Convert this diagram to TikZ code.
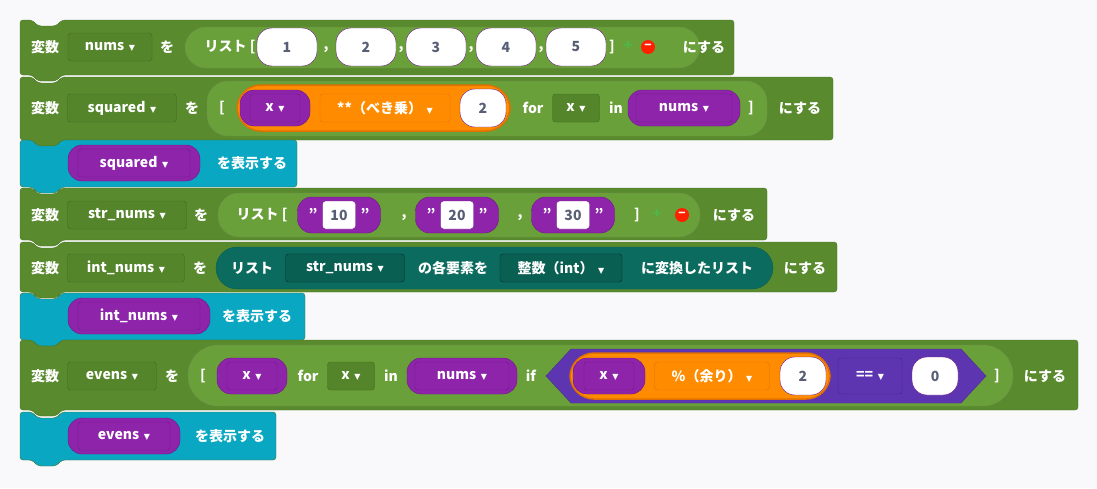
\documentclass[tikz,border=0pt]{standalone}
\usepackage{fontspec}
\setmainfont{Noto Sans CJK JP}
\newfontfamily\symb{DejaVu Sans}
\usetikzlibrary{shapes.geometric}
\definecolor{bg}{HTML}{F9F9FB}
\definecolor{blk}{HTML}{5A8A2E}
\definecolor{blkline}{HTML}{4A7624}
\definecolor{slotc}{HTML}{6AA03A}
\definecolor{ddc}{HTML}{54852A}
\definecolor{ddline}{HTML}{3E6A1E}
\definecolor{purp}{HTML}{8E24AA}
\definecolor{purpline}{HTML}{6E1887}
\definecolor{oran}{HTML}{FF8C00}
\definecolor{oranline}{HTML}{E07000}
\definecolor{teal}{HTML}{0B6B5E}
\definecolor{tealdd}{HTML}{0A5F53}
\definecolor{cyanb}{HTML}{0AA7C2}
\definecolor{indig}{HTML}{5E35B1}
\definecolor{numtext}{HTML}{575E75}
\newcommand\dn{\,\,{\symb\fontsize{8}{8}\selectfont ▼}}
\newcommand\stmtblock[5]{% fill, x1, y1, x2, y2
  \fill[#1, draw=blkline, rounded corners=3pt] (#2,#3) -- (#2+12,#3) -- (#2+18,#3+6) -- (#2+36,#3+6) -- (#2+42,#3)
    -- (#4,#3) -- (#4,#5) -- (#2+42,#5) -- (#2+36,#5+6) -- (#2+18,#5+6) -- (#2+12,#5) -- (#2,#5) -- cycle;}
\tikzset{
  every node/.style={font=\bfseries\fontsize{14}{16}\selectfont, text=white, inner sep=0pt},
  lbl/.style={},
  dd/.style={draw=ddline, fill=ddc, rounded corners=3pt, minimum height=28},
  slot/.style={draw=blkline!80, fill=slotc, rounded corners=21pt},
  varpill/.style={draw=purpline, fill=purp, rounded corners=14pt, minimum height=36},
  vardd/.style={draw=purpline, fill=purp, rounded corners=3pt, minimum height=28},
  numpill/.style={draw=purpline, fill=white, text=numtext, rounded corners=15pt, minimum height=38},
  oppill/.style={draw=oranline, line width=1.5pt, fill=oran, rounded corners=24pt},
  opdd/.style={draw=oranline, fill=oran, rounded corners=3pt, minimum height=28},
  plus/.style={text=green!60!black!70!white},
  minus/.style={circle, fill=red!75!orange, minimum size=14, font=\bfseries\fontsize{12}{12}\selectfont},
}
\begin{document}
\begin{tikzpicture}[x=1pt,y=-1pt]
\useasboundingbox[fill=bg] (0,0) rectangle (1097,488);

% nums = [1,2,3,4,5]
\stmtblock{blk}{20}{20}{734}{75}
\node (r1a) at (45,47) {変数};
\node[dd, minimum width=84] (numsDD) at (110,47) {nums\dn};
\node (r1b) at (167,47) {を};
\fill[slot] (185,27) rectangle (700,68);
\node (r1c) at (230,47) {リスト [};
\foreach \v/\cx in {1/287, 2/366, 3/436, 4/506, 5/576}
  \node[numpill, minimum width=60] (n\v) at (\cx,47) {\v};
\foreach \cx in {326, 401, 471, 541}
  \node at (\cx,50) {,};
\node (r1d) at (612,47) {]};
\node[plus] (r1p) at (628,46) {+};
\node[minus] (r1m) at (648,47) {−};
\node (r1e) at (704,47) {にする};

% squared
\stmtblock{blk}{20}{77}{833}{140}
\node (r2a) at (45,108) {変数};
\node[dd, minimum width=109] (sqDD) at (122,108) {squared\dn};
\node (r2b) at (192,108) {を};
\fill[slot] (207,81) rectangle (767,136);
\node (r2c) at (222,108) {[};
\fill[oppill] (237,85) rectangle (510,131);
\node[varpill, minimum width=70] (r2x) at (275,108) {};
\node[vardd, minimum width=50] (r2xd) at (275,108) {x\dn};
\node[opdd, minimum width=130] (powDD) at (385,108) {**（べき乗）\dn};
\node[numpill, minimum width=46] (r2two) at (483,108) {2};
\node (r2for) at (533,108) {for};
\node[dd, minimum width=47] (r2xx) at (576,108) {x\dn};
\node (r2in) at (616,108) {in};
\node[varpill, minimum width=112] (r2n) at (684,108) {};
\node[vardd, minimum width=96] (r2nd) at (684,108) {nums\dn};
\node (r2d) at (751,108) {]};
\node (r2e) at (800,108) {にする};

% print squared
\stmtblock{cyanb}{20}{140}{297}{187}
\node[varpill, minimum width=132] (r3p) at (134,163) {};
\node[vardd, minimum width=112] (r3d) at (134,163) {squared\dn};
\node (r3t) at (252,163) {を表示する};

% str_nums
\stmtblock{blk}{20}{188}{767}{240}
\node (r4a) at (45,215) {変数};
\node[dd, minimum width=119] (strDD) at (127,215) {str\_nums\dn};
\node (r4b) at (201,215) {を};
\fill[slot] (218,193) rectangle (700,237);
\node (r4c) at (262,215) {リスト [};
\foreach \v/\cx in {10/339, 20/457, 30/573} {
  \node[varpill, minimum width=83] (s\v) at (\cx,215) {};
  \node[draw=purpline, fill=white, text=numtext, rounded corners=3pt, minimum width=33, minimum height=28] (s\v t) at (\cx,215) {\v};
  \node at (\cx-26,214) {"};
  \node at (\cx+26,214) {"};
}
\foreach \cx in {404, 520}
  \node at (\cx,218) {,};
\node (r4d) at (637,215) {]};
\node[plus] (r4p) at (657,214) {+};
\node[minus] (r4m) at (682,215) {−};
\node (r4e) at (734,215) {にする};

% int_nums
\stmtblock{blk}{20}{242}{837}{292}
\node (r5a) at (45,268) {変数};
\node[dd, minimum width=117] (intDD) at (126,268) {int\_nums\dn};
\node (r5b) at (200,268) {を};
\fill[draw=tealdd, fill=teal, rounded corners=21pt] (216,247) rectangle (773,289);
\node (r5c) at (252,268) {リスト};
\node[draw=black!60!teal, fill=tealdd, rounded corners=3pt, minimum height=28, minimum width=119] (r5s) at (345,268) {str\_nums\dn};
\node (r5d) at (453,268) {の各要素を};
\node[draw=black!60!teal, fill=tealdd, rounded corners=3pt, minimum height=28, minimum width=122] (r5int) at (561,268) {整数（int）\dn};
\node (r5e) at (697,268) {に変換したリスト};
\node (r5f) at (805,268) {にする};

% print int_nums
\stmtblock{cyanb}{20}{293}{305}{340}
\node[varpill, minimum width=142] (r6p) at (139,316) {};
\node[vardd, minimum width=122] (r6d) at (139,316) {int\_nums\dn};
\node (r6t) at (257,316) {を表示する};

% evens
\stmtblock{blk}{20}{340}{1078}{410}
\node (r7a) at (45,376) {変数};
\node[dd, minimum width=89] (evDD) at (112,376) {evens\dn};
\node (r7b) at (172,376) {を};
\fill[slot, rounded corners=30pt] (188,345) rectangle (1013,406);
\node (r7c) at (203,376) {[};
\node[varpill, minimum width=70] (r7x) at (252,376) {};
\node[vardd, minimum width=50] (r7xd) at (252,376) {x\dn};
\node (r7for) at (308,376) {for};
\node[dd, minimum width=47] (r7xx) at (351,376) {x\dn};
\node (r7in) at (391,376) {in};
\node[varpill, minimum width=110] (r7n) at (462,376) {};
\node[vardd, minimum width=94] (r7nd) at (462,376) {nums\dn};
\node (r7if) at (531,376) {if};
\fill[draw=indig!80!black, fill=indig] (546,376) -- (571,349) -- (961,349) -- (986,376) -- (961,403) -- (571,349|-0,403) -- cycle;
\fill[oppill] (570,353) rectangle (830,399);
\node[varpill, minimum width=72] (r7x2) at (609,376) {};
\node[vardd, minimum width=50] (r7x2d) at (609,376) {x\dn};
\node[opdd, minimum width=115] (modDD) at (712,376) {\%（余り）\dn};
\node[numpill, minimum width=46] (r7two) at (803,376) {2};
\node[draw=indig!70!black, fill=indig, rounded corners=3pt, minimum height=36, minimum width=64] (eqDD) at (870,376) {==\dn};
\node[numpill, minimum width=46] (r7zero) at (935,376) {0};
\node (r7d) at (997,376) {]};
\node (r7e) at (1045,376) {にする};

% print evens
\stmtblock{cyanb}{20}{412}{276}{460}
\node[varpill, minimum width=112] (r8p) at (124,436) {};
\node[vardd, minimum width=92] (r8d) at (124,436) {evens\dn};
\node (r8t) at (230,436) {を表示する};
\end{tikzpicture}
\end{document}
